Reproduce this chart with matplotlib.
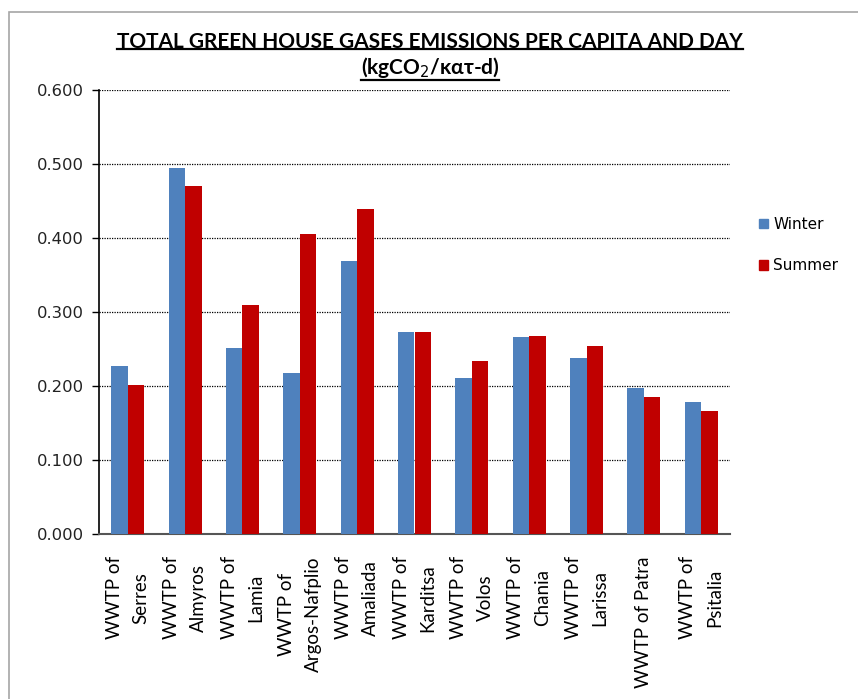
import matplotlib
matplotlib.use("Agg")
import matplotlib.pyplot as plt
import numpy as np
from matplotlib.patches import Rectangle, Patch
from matplotlib.lines import Line2D

# wastewater treatment plants and their daily per-capita GHG emissions
plants = ["WWTP of\nSerres", "WWTP of\nAlmyros", "WWTP of\nLamia",
          "WWTP of\nArgos-Nafplio", "WWTP of\nAmaliada", "WWTP of\nKarditsa",
          "WWTP of\nVolos", "WWTP of\nChania", "WWTP of\nLarissa",
          "WWTP of Patra", "WWTP of\nPsitalia"]
winter = [0.227, 0.494, 0.252, 0.217, 0.369, 0.273, 0.211, 0.266, 0.238, 0.197, 0.178]
summer = [0.201, 0.470, 0.310, 0.406, 0.439, 0.273, 0.234, 0.268, 0.254, 0.185, 0.166]
yticks = [0.0, 0.1, 0.2, 0.3, 0.4, 0.5, 0.6]

BLUE = "#4F81BD"
RED = "#C00000"
LABEL_FONT = "Lato"

fig = plt.figure(figsize=(8.58, 6.99), dpi=100)
ax = fig.add_axes([99 / 858, 1 - 534 / 699, 631 / 858, 444 / 699])

x = np.arange(len(plants))
w = 0.287
ax.bar(x - w / 2, winter, w, color=BLUE, zorder=3)
ax.bar(x + w / 2, summer, w, color=RED, zorder=3)

ax.set_xlim(-0.5, len(plants) - 0.5)
ax.set_ylim(0, 0.6)
ax.set_yticks(yticks)
ax.set_yticklabels(["%.3f" % v for v in yticks], fontsize=11.8, family="DejaVu Sans", color="#222222")
ax.yaxis.grid(True, color="black", linestyle=(0, (1, 1)), linewidth=0.9, zorder=0)
ax.tick_params(axis="y", direction="out", length=5, width=1, pad=6)

ax.set_xticks(x)
ax.set_xticklabels(plants, rotation=90, fontsize=13.5, family=LABEL_FONT,
                   va="top", ha="center", linespacing=1.7, multialignment="center")
ax.tick_params(axis="x", length=0, pad=16)

for side in ["top", "right"]:
    ax.spines[side].set_visible(False)
ax.spines["left"].set_color("black")
ax.spines["left"].set_linewidth(1.2)
ax.spines["bottom"].set_color("#555555")
ax.spines["bottom"].set_linewidth(1.5)

handles = [Patch(color=BLUE, label="Winter"), Patch(color=RED, label="Summer")]
fig.legend(handles=handles, loc="upper left", bbox_to_anchor=(745 / 858, 1 - 203 / 699),
           frameon=False, handlelength=0.6, handleheight=0.6,
           handletextpad=0.35, labelspacing=1.75, prop={"family": "DejaVu Sans", "size": 11})

# outer chart frame
fig.patches.append(Rectangle((9 / 858, -0.1), 1.2, 1.1 - 12 / 699, transform=fig.transFigure,
                             fill=False, edgecolor="#a6a6a6", linewidth=1.2))

t1 = fig.text(430 / 858, 1 - 42 / 699, "TOTAL GREEN HOUSE GASES EMISSIONS PER CAPITA AND DAY",
              ha="center", va="center", fontsize=15, fontweight="bold", family=LABEL_FONT)
t2 = fig.text(430 / 858, 1 - 68 / 699, r"(kgCO$_2$/κατ-d)",
              ha="center", va="center", fontsize=15, fontweight="bold",
              family=[LABEL_FONT, "DejaVu Sans"])

# underline the title lines
fig.canvas.draw()
r = fig.canvas.get_renderer()
inv = fig.transFigure.inverted()
for t, dy in [(t1, 3), (t2, 1)]:
    bb = t.get_window_extent(renderer=r)
    (x0, y0), (x1, _) = inv.transform([(bb.x0, bb.y0 + dy), (bb.x1, bb.y1)])
    fig.lines.append(Line2D([x0, x1], [y0, y0], transform=fig.transFigure,
                            color="black", linewidth=1.6))

fig.savefig("out.png", dpi=100, facecolor="white")
